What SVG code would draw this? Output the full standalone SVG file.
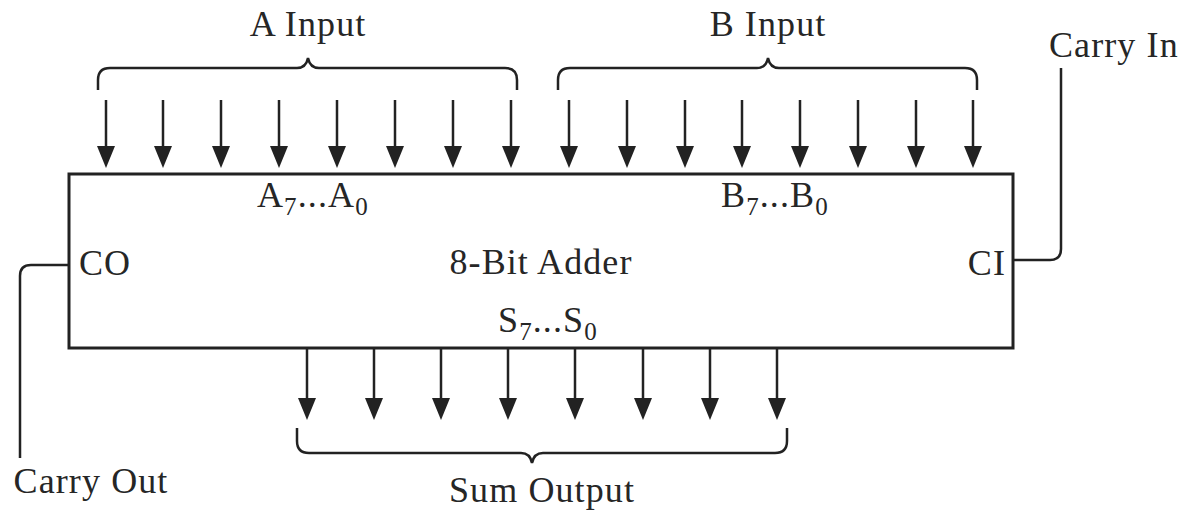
<svg xmlns="http://www.w3.org/2000/svg" width="1191" height="512" viewBox="0 0 1191 512">
<defs>
<style>
.t{font-family:"Liberation Serif","Times New Roman",serif;font-size:36px;fill:#262626;letter-spacing:1.1px}
.s{font-size:25px}
.ln{stroke:#222;stroke-width:2.5;fill:none}
.ar{stroke:#222;stroke-width:2.5;fill:none;marker-end:url(#ah)}
.box{stroke:#222;stroke-width:3;fill:#fff}
</style>
<marker id="ah" viewBox="0 0 22 18" refX="14" refY="9" markerWidth="22" markerHeight="18" markerUnits="userSpaceOnUse" orient="auto">
<path d="M0,0 L22,9 L0,18 z" fill="#222"/>
</marker>
</defs>
<rect width="1191" height="512" fill="#fff"/>
<g id="adder">
<rect class="box" x="69" y="174" width="944" height="174"/>
<text class="t" x="541" y="274" text-anchor="middle">8-Bit Adder</text>
<text class="t" x="79" y="275">CO</text>
<text class="t" x="1006" y="275" text-anchor="end">CI</text>
<text class="t" x="257" y="207">A<tspan class="s" dy="8">7</tspan><tspan dy="-8">...A</tspan><tspan class="s" dy="8">0</tspan></text>
<text class="t" x="721" y="207">B<tspan class="s" dy="8">7</tspan><tspan dy="-8">...B</tspan><tspan class="s" dy="8">0</tspan></text>
<text class="t" x="498" y="332">S<tspan class="s" dy="8">7</tspan><tspan dy="-8">...S</tspan><tspan class="s" dy="8">0</tspan></text>
</g>
<g id="a-input">
<text class="t" x="308" y="36" text-anchor="middle">A Input</text>
<path class="ln" d="M98,90 L98,80 Q98,68 110,68 L297,68 Q306,68 308,58 Q310,68 319,68 L505,68 Q517,68 517,80 L517,90"/>
</g>
<g id="b-input">
<text class="t" x="768" y="36" text-anchor="middle">B Input</text>
<path class="ln" d="M558,90 L558,80 Q558,68 570,68 L757,68 Q766,68 768,58 Q770,68 779,68 L965,68 Q977,68 977,80 L977,90"/>
</g>
<g id="carry-in">
<text class="t" x="1049" y="57">Carry In</text>
</g>
<g id="carry-out">
<text class="t" x="91" y="493" text-anchor="middle">Carry Out</text>
</g>
<g id="sum-output">
<path class="ln" d="M297,428 L297,441 Q297,453 309,453 L521,453 Q530,453 532,463 Q534,453 543,453 L775,453 Q787,453 787,441 L787,428"/>
<text class="t" x="542" y="502" text-anchor="middle">Sum Output</text>
</g>
<g id="connectors">
<line class="ar" x1="106" y1="100" x2="106" y2="160"/>
<line class="ar" x1="163" y1="100" x2="163" y2="160"/>
<line class="ar" x1="221" y1="100" x2="221" y2="160"/>
<line class="ar" x1="279" y1="100" x2="279" y2="160"/>
<line class="ar" x1="337" y1="100" x2="337" y2="160"/>
<line class="ar" x1="395" y1="100" x2="395" y2="160"/>
<line class="ar" x1="453" y1="100" x2="453" y2="160"/>
<line class="ar" x1="511" y1="100" x2="511" y2="160"/>
<line class="ar" x1="569" y1="100" x2="569" y2="160"/>
<line class="ar" x1="627" y1="100" x2="627" y2="160"/>
<line class="ar" x1="685" y1="100" x2="685" y2="160"/>
<line class="ar" x1="742" y1="100" x2="742" y2="160"/>
<line class="ar" x1="800" y1="100" x2="800" y2="160"/>
<line class="ar" x1="858" y1="100" x2="858" y2="160"/>
<line class="ar" x1="916" y1="100" x2="916" y2="160"/>
<line class="ar" x1="973" y1="100" x2="973" y2="160"/>
<line class="ar" x1="307" y1="349" x2="307" y2="412"/>
<line class="ar" x1="374" y1="349" x2="374" y2="412"/>
<line class="ar" x1="441" y1="349" x2="441" y2="412"/>
<line class="ar" x1="508" y1="349" x2="508" y2="412"/>
<line class="ar" x1="575" y1="349" x2="575" y2="412"/>
<line class="ar" x1="643" y1="349" x2="643" y2="412"/>
<line class="ar" x1="710" y1="349" x2="710" y2="412"/>
<line class="ar" x1="777" y1="349" x2="777" y2="412"/>
<path class="ln" d="M1061,68 L1061,249 Q1061,260 1050,260 L1014,260"/>
<path class="ln" d="M68,265 L31,265 Q20,265 20,276 L20,458"/>
</g>
</svg>
